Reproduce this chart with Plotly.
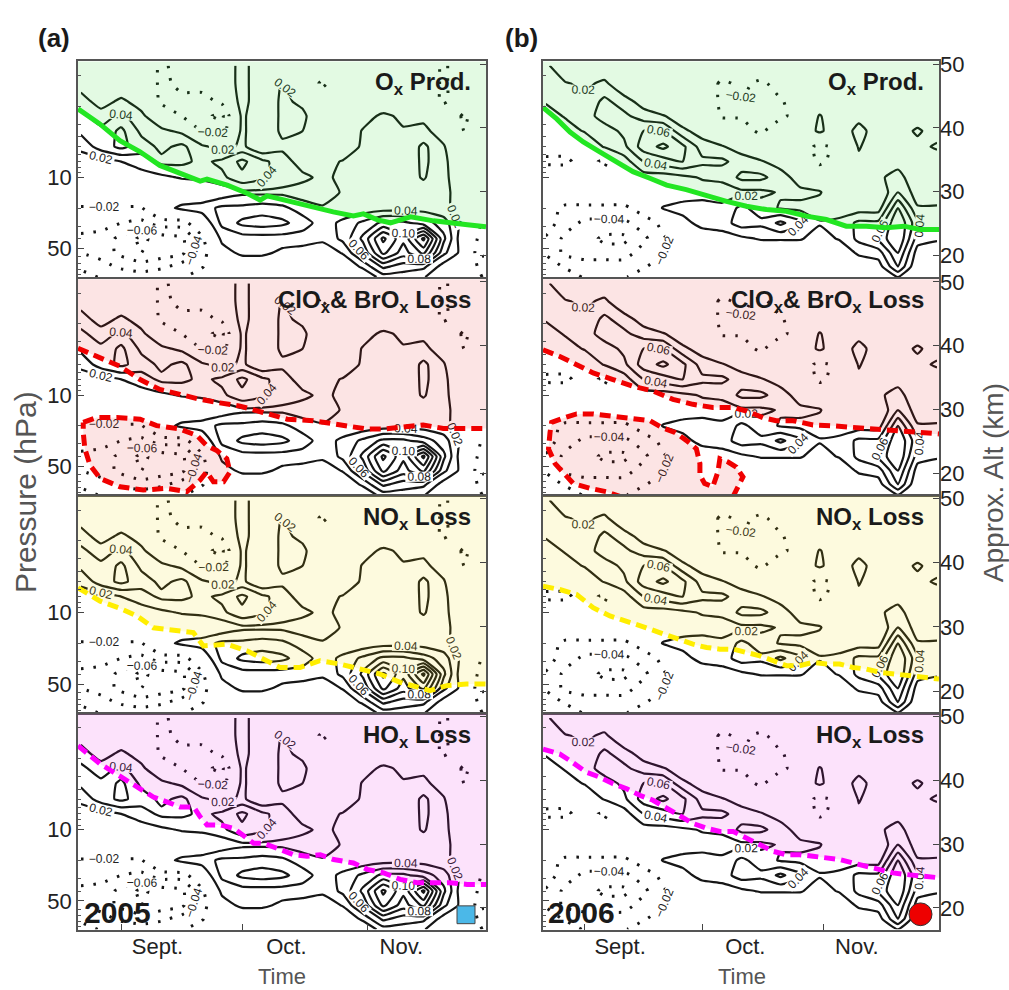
import plotly.graph_objects as go

W, H = 1009, 990
FONT = "Liberation Sans, Arial, sans-serif"

# ---------------- data ----------------
# time axis: days counted from 1 Aug (Sept 1 = 31, Oct 1 = 61, Nov 1 = 92)
DAYS = [21, 26, 31, 36, 41, 46, 51, 56, 61, 66, 71, 76, 81, 86, 91, 96, 101, 106, 111, 116, 121]
PRES = [0.8, 1.2, 1.8, 2.5, 3.5, 5, 7, 10, 14, 20, 28, 40, 55, 75, 95]   # hPa

# contoured field, in units of 0.01 (rows = PRES, columns = DAYS)
Z2005 = [
    [0, 0, 0, 0, -2.5, -1, 0, 0, 3, 0, 0, 0, 0, 0, 0, 0, 0, 0, -2.5, 0, 0],
    [1, 0, 0, 0, -2.5, -1.5, -1, 0, 3, 0, 2.2, 0, -2.5, 0, 0, 0, 0, 0, -2.5, 0, 0],
    [3, 1, 2.5, 1, -2.5, -2.5, -3, -1.5, 3, 0, 2.5, 1.5, 0, 0, 0, 0, 0, 0, -2.5, 0, 0],
    [4.5, 3, 4.5, 2.5, 0, -2, -3.5, -4.5, 2.5, 0, 2.5, 2.5, 0, 0, 1, 2.5, 1.5, 1.5, 1, -2.5, 0],
    [4.5, 4.5, 6.5, 3.5, 2.5, 1.5, -2, -3, 2.5, 0, 2.5, 2, 0, 0, 2.2, 2.5, 2.2, 2.5, 1, -2, 0],
    [2.5, 5, 6.5, 5, 3.5, 4.5, 2.5, 1, 2.5, 0, 1.5, 1, 0, 0, 2.5, 3, 2.2, 4.5, 2.2, -1, 0],
    [1, 1, 2, 3, 4.5, 4.5, 3.5, 4.5, 6.5, 4.5, 3, 1, 1, 2.2, 2.5, 2.5, 2.2, 4.5, 2.5, 0, 0],
    [0, 0, 0, 1, 1.5, 2.2, 2.5, 3.5, 5.5, 4.5, 3, 2.5, 1.5, 2.5, 3, 2.5, 3, 4.2, 2.5, 0.5, 0],
    [0, 0, 0, 0, 0, 0, 0, 0.5, 1.5, 1.5, 1.5, 1, 1, 2.2, 2.5, 3, 2.2, 3, 2.5, 1, -1],
    [-2.2, -2.2, -2.2, -2.2, 1, 2.5, 3, 4.5, 4.5, 5, 4.5, 3, 2.2, 2.5, 2.5, 3, 3, 3, 2.5, 1, -1],
    [-3, -3, -4, -4.5, -3, -3, 0, 4.5, 6.5, 7, 6.5, 5, 3, 4.5, 6.5, 8.5, 8.5, 7, 5, 1, -2.5],
    [-4.5, -5, -6.5, -8.5, -7, -6.5, -2.5, 2.5, 3, 3, 3, 3, 2.5, 4.5, 8.5, 14.5, 10.5, 16.5, 6.5, 0, -3],
    [-4, -5, -6.5, -8, -7, -6.5, -3, 1, 2.5, 2.5, 1.5, 1, 0.5, 2.2, 6.5, 12.5, 9, 12.5, 4.5, 1, -4.5],
    [-2.5, -3, -4.5, -5, -4.5, -3, -2.2, 0, 0, 0, 0, 0, 0, 0, 2.5, 6.5, 5, 4.5, 1, 0, -3],
    [-1, -2.2, -2.2, -3, -2.2, -2.2, -1, 0, 0, 0, 0, 0, 0, 0, 0, 3, 3, 2.2, 0, 0, -2.2],
]
Z2006 = [
    [2.5, 0, 0, 0, -1, 0, 0, 0, 0, 0, 0, 0, 0, 0, 0, 0, 0, 0, 0, 0, 0],
    [3, 2.2, 1.5, 2.5, 0, 0, -1, 0, 0, -2.5, -1.5, -2.5, -1, 0, 0, 0, 0, 0, 0, 0, 0],
    [2.2, 3, 2.5, 4.5, 3, 1, -1, 0, 0, -2.5, -2, -2.5, -2.2, -1, 0, 0, 0, 0, 0, 0, 0],
    [1, 2.2, 3, 5, 4.5, 3, 2.2, 0.5, 0, -2.2, -2.2, -2.2, -2.5, -1, 2.2, 0, 1, 0, 0, 0, 0],
    [0, 1, 2.2, 3, 4.5, 6, 6, 2.5, 1, -0.5, -1, -2.5, 0, 0, 2.5, 0, 3, 0.5, 0.5, 2.5, 0.5],
    [-1, -1, 0, 2.2, 3.5, 7, 8.5, 6.5, 3, 2.2, 1, 0, 0, -1, -2.5, -1.5, 2.2, 0.5, 0, 1, 2.5],
    [-2.5, -2.5, -1, -2.5, 1, 4, 5, 6, 4.5, 4.5, 3, 2.2, 1, 0, -2.5, -1, 1.5, 0, 1, 0, 0],
    [0, 0, 0, -1, 0, 1, 1, 1.5, 2.2, 2.5, 4.5, 4.5, 3, 1, 0, 0, 1, 1.5, 3, 0, 0],
    [0, 0, 0, 0, 0, 0, 0, 0.5, 1, 1, 1.5, 1.5, 2.2, 2.5, 2.2, 0, 0, 0, 4, 1, 1],
    [-1, -2.5, -2.5, -2.5, -2.5, -1, 2.2, 3, 3, 2.5, 4.5, 3, 1.8, 1.5, 1, 1, 1, 1, 8, 2.2, 2.2],
    [-1, -3, -4.5, -4.5, -4.5, -3, -1.5, 1, 3, 3, 5, 4.5, 6.5, 4.5, 2.2, 2.5, 4.5, 4.5, 10, 4.5, 3],
    [-2.2, -4.5, -5, -6.5, -6.5, -4.5, -2.2, -1, 0, 1, 1.5, 2.2, 2.2, 2.2, 1, 2.2, 4.5, 6.5, 10, 3, 2.2],
    [-2.2, -4.5, -5, -5, -5, -3, -2.2, -1, 0, 0, 0, 0, 0, 0, 0, 0, 2.5, 3, 8, 1, 1],
    [-1, -2.2, -3, -3, -3, -2.2, -1, 0, 0, 0, 0, 0, 0, 0, 0, 0, 0, 1, 6, 0, 0],
    [0, -1, -2.2, -2.2, -2.2, -1, 0, 0, 0, 0, 0, 0, 0, 0, 0, 0, 0, 0, 2, 0, 0],
]

# boundary curves (day, pressure hPa)
OX05_D = [20.3, 25.7, 30.7, 35.6, 40.6, 45.6, 50.6, 52.3, 57.3, 62.2, 65.5, 67.2, 72.2, 77.2, 83.6, 88.6, 91.1, 94.6, 97.8, 102.8, 108.5, 116.9, 121.5]
OX05_P = [2.13, 2.99, 4.37, 5.58, 7.63, 9.12, 10.9, 10.4, 11.9, 14.3, 16.7, 15.2, 17.1, 18.7, 21.8, 23.9, 22.8, 26.1, 27.9, 24.4, 26.7, 29.2, 30.5]
OX06_D = [20.3, 23.8, 27.2, 30.6, 34.8, 39.1, 43.3, 47.6, 51.9, 56.9, 62.1, 67.2, 72.3, 77.4, 82.5, 87.6, 92.7, 97.8, 102.9, 108.0, 112.6, 116.5, 121.5]
OX06_P = [2.06, 2.67, 3.59, 4.49, 5.61, 7.02, 8.79, 10.2, 11.9, 13.2, 15.3, 17.2, 19.2, 20.7, 21.5, 24.0, 25.9, 30.1, 30.1, 31.2, 30.1, 32.4, 32.4]

CL05_D = [20.3, 25.8, 30.7, 35.7, 40.6, 45.6, 50.6, 55.5, 60.5, 66.2, 72.2, 78.6, 83.6, 92.0, 96.0, 100.2, 105.9, 110.9, 121.5]
CL05_P = [3.47, 4.34, 5.21, 7.02, 8.79, 9.82, 11.0, 11.9, 12.8, 14.8, 17.2, 17.8, 19.2, 21.5, 21.5, 20.7, 19.6, 21.2, 21.2]
CL06_D = [20.3, 24.6, 28.9, 33.1, 38.2, 43.3, 48.4, 53.5, 58.6, 63.7, 68.9, 72.3, 76.5, 79.9, 84.2, 89.3, 94.4, 99.5, 104.6, 109.7, 113.9, 118.2, 121.5]
CL06_P = [3.59, 4.17, 5.02, 6.05, 7.03, 8.17, 9.12, 11.0, 12.3, 13.2, 13.2, 14.3, 16.6, 17.8, 17.8, 19.6, 20.0, 20.7, 21.5, 22.3, 23.2, 24.0, 24.0]

BLOB05_D = [21.6, 24.9, 29.9, 35.7, 39.8, 45.6, 49.8, 52.2, 54.7, 57.2, 58.0, 56.4, 53.9, 52.2, 50.6, 47.3, 42.3, 36.5, 30.7, 25.8, 23.3, 22.0, 21.6, 21.6]
BLOB05_P = [18.5, 16.6, 16.6, 17.2, 19.9, 21.5, 24.9, 31.2, 34.9, 42.0, 56.6, 70.8, 70.8, 56.6, 68.2, 88.5, 82.0, 85.3, 79.2, 65.6, 48.8, 33.6, 23.2, 18.5]
BLOB06_D = [40.5, 36.5, 32.3, 28.0, 23.4, 21.7, 22.1, 22.5, 25.9, 28.9, 33.1, 37.4, 40.8, 44.2, 47.6, 50.6, 54.0, 57.0, 59.5, 60.4, 60.4, 61.6, 63.7, 65.0, 65.5, 67.6, 69.7, 71.4, 70.1, 68.8, 40.5]
BLOB06_P = [100, 88.5, 82.0, 73.4, 47.0, 33.6, 23.2, 18.5, 16.6, 15.3, 15.3, 16.0, 16.6, 17.2, 17.8, 20.7, 23.2, 27.9, 33.6, 47.0, 61.0, 73.4, 79.2, 56.6, 42.0, 45.3, 50.7, 63.4, 79.2, 100, 100]

NO05_D = [20.3, 25.8, 30.7, 34.9, 39.0, 45.6, 48.9, 51.4, 57.2, 62.2, 67.1, 70.4, 75.4, 80.3, 85.3, 90.3, 95.2, 100.2, 104.3, 107.6, 111.8, 116.7, 121.5]
NO05_P = [5.74, 7.75, 9.12, 10.8, 14.1, 15.1, 15.7, 21.2, 20.4, 23.7, 29.6, 34.4, 34.4, 29.6, 31.9, 35.7, 39.9, 48.1, 53.7, 57.9, 51.8, 49.9, 49.9]
NO06_D = [20.3, 24.6, 28.9, 33.1, 37.4, 41.6, 46.7, 50.1, 54.4, 58.6, 62.1, 65.5, 68.9, 72.3, 75.7, 79.1, 82.5, 85.9, 89.3, 92.7, 96.1, 99.5, 102.9, 106.3, 109.7, 113.1, 116.5, 121.5]
NO06_P = [5.55, 5.97, 6.67, 8.97, 10.8, 12.1, 14.1, 15.7, 18.2, 20.4, 22.0, 22.8, 22.8, 24.5, 26.5, 29.6, 33.1, 33.1, 30.7, 31.9, 31.9, 34.4, 35.7, 38.4, 39.9, 41.4, 43.0, 44.6]

HO05_D = [20.3, 23.3, 25.8, 29.1, 32.4, 35.7, 39.0, 42.3, 45.6, 49.0, 50.6, 52.3, 55.6, 58.9, 62.2, 63.9, 66.4, 69.7, 73.8, 77.1, 80.4, 83.7, 88.6, 92.0, 96.1, 100.2, 104.4, 108.5, 112.6, 116.8, 121.5]
HO05_P = [1.50, 1.88, 2.26, 2.73, 3.28, 3.96, 4.78, 5.33, 5.97, 5.97, 7.46, 8.97, 8.97, 9.68, 12.1, 13.6, 13.6, 15.1, 17.6, 18.2, 17.6, 19.6, 21.2, 24.5, 26.5, 30.7, 33.1, 33.1, 33.1, 34.4, 34.4]
HO06_D = [20.3, 24.6, 27.2, 31.4, 34.8, 38.2, 41.7, 45.0, 48.4, 51.9, 55.3, 58.6, 62.1, 65.5, 68.9, 72.3, 75.7, 79.1, 82.5, 85.9, 89.3, 92.7, 96.1, 99.5, 102.9, 106.3, 109.7, 113.1, 116.5, 121.5]
HO06_P = [1.62, 1.81, 2.10, 2.73, 3.05, 3.54, 3.96, 4.59, 5.14, 6.19, 7.18, 8.67, 9.68, 10.4, 10.4, 12.1, 14.1, 16.3, 17.6, 17.6, 18.2, 19.0, 19.6, 21.2, 22.8, 24.5, 26.5, 27.5, 28.5, 29.6]

MONTH_STARTS = [31, 61, 92]
MONTH_LABEL_DAYS = [40, 72, 100.5]
MONTH_LABELS = ["Sept.", "Oct.", "Nov."]
P_TICKS = [10, 50]
P_MINOR = [1, 2, 3, 4, 5, 6, 7, 8, 9, 20, 30, 40, 60, 70, 80, 90]
ALT_TICKS = [20, 30, 40, 50]
YEARS = ["2005", "2006"]
PANEL_TITLES = ["<b>O<sub>x</sub> Prod.</b>",
                "<b>ClO<sub>x</sub>& BrO<sub>x</sub> Loss</b>",
                "<b>NO<sub>x</sub> Loss</b>",
                "<b>HO<sub>x</sub> Loss</b>"]

# ---------------- styling / layout ----------------
COL_PX = [(78, 486), (543, 939)]
ROW_PX = [(52, 270), (272, 490), (491, 710), (711, 929)]
X_RANGE = [20.3, 121.5]
Y_RANGE = [1.98, -0.137]       # log10(hPa), reversed
ALT_RANGE = [16.6, 50.4]
P_TOP = 0.5

FILLS = ["rgba(40,220,40,0.13)", "rgba(230,30,30,0.12)", "rgba(240,220,0,0.13)", "rgba(230,20,220,0.12)"]
LINE_COLORS = ["#22e622", "#f00000", "#ffee00", "#ff00ff"]
CLINE = "#161616"
TICKFONT = dict(size=22, color="#222", family=FONT)

BOUNDS = [
    [(OX05_D, OX05_P), (OX06_D, OX06_P)],
    [(CL05_D, CL05_P), (CL06_D, CL06_P)],
    [(NO05_D, NO05_P), (NO06_D, NO06_P)],
    [(HO05_D, HO05_P), (HO06_D, HO06_P)],
]
BLOBS = [(BLOB05_D, BLOB05_P), (BLOB06_D, BLOB06_P)]
ZS = [Z2005, Z2006]


def fx(px):
    return px / W


def fy(py):
    return 1 - py / H


fig = go.Figure()
layout = dict(width=W, height=H, autosize=False, margin=dict(l=0, r=0, t=0, b=0),
              plot_bgcolor="white", paper_bgcolor="white", showlegend=False,
              font=dict(family=FONT, color="#222", size=18))
annotations = []
shapes = []

for r in range(4):
    for c in range(2):
        n = r * 2 + c + 1
        na = n + 8
        xs = "x" if n == 1 else f"x{n}"
        ys = "y" if n == 1 else f"y{n}"
        ya = f"y{na}"
        xk = "xaxis" if n == 1 else f"xaxis{n}"
        yk = "yaxis" if n == 1 else f"yaxis{n}"
        yak = f"yaxis{na}"
        x0, x1 = COL_PX[c]
        t, b = ROW_PX[r]
        bottom = (r == 3)

        xax = dict(domain=[fx(x0), fx(x1)], anchor=ys, range=X_RANGE, showgrid=False,
                   zeroline=False, showline=True, linecolor="#555", linewidth=1.5, mirror=True)
        if bottom:
            xax.update(tickmode="array", tickvals=MONTH_LABEL_DAYS, ticktext=MONTH_LABELS,
                       ticks="inside", ticklen=0, tickwidth=0.01, showticklabels=True,
                       tickfont=TICKFONT, ticklabelstandoff=-4,
                       minor=dict(tickmode="array", tickvals=MONTH_STARTS, ticks="inside",
                                  ticklen=6, tickcolor="#444", tickwidth=1))
        else:
            xax.update(showticklabels=False, ticks="")
        layout[xk] = xax

        yax = dict(domain=[fy(b), fy(t)], anchor=xs, type="log", range=Y_RANGE, showgrid=False,
                   zeroline=False, showline=True, linecolor="#555", linewidth=1.5, mirror=True,
                   tickmode="array", tickvals=P_TICKS, ticks="inside", ticklen=6, tickcolor="#444",
                   minor=dict(tickmode="array", tickvals=P_MINOR, ticks="inside", ticklen=3,
                              tickcolor="#555", tickwidth=1))
        if c == 0:
            yax.update(ticktext=[str(v) for v in P_TICKS], showticklabels=True, tickfont=TICKFONT)
        else:
            yax.update(showticklabels=False)
        layout[yk] = yax

        aax = dict(overlaying=ys, anchor=xs, side="right", range=ALT_RANGE, showgrid=False,
                   zeroline=False, showline=False, tickmode="array", tickvals=ALT_TICKS,
                   ticks="inside", ticklen=6, tickcolor="#444")
        if c == 1:
            aax.update(showticklabels=True, tickfont=TICKFONT)
        else:
            aax.update(showticklabels=False)
        layout[yak] = aax

        # invisible point to activate the altitude axis
        fig.add_trace(go.Scatter(x=[X_RANGE[0]], y=[ALT_RANGE[0]], xaxis=xs, yaxis=ya, mode="markers",
                                 marker=dict(opacity=0), hoverinfo="skip"))

        # shaded region above boundary
        bd, bp = BOUNDS[r][c]
        fig.add_trace(go.Scatter(x=list(bd) + [X_RANGE[1] + 1, X_RANGE[0] - 1, bd[0]],
                                 y=list(bp) + [P_TOP, P_TOP, bp[0]], xaxis=xs, yaxis=ys,
                                 mode="lines", line=dict(width=0), fill="toself",
                                 fillcolor=FILLS[r], hoverinfo="skip"))
        if r == 1:
            kd, kp = BLOBS[c]
            fig.add_trace(go.Scatter(x=kd, y=kp, xaxis=xs, yaxis=ys, mode="lines",
                                     line=dict(width=0), fill="toself", fillcolor=FILLS[r],
                                     hoverinfo="skip"))

        # contours (same field in every row of a column)
        zz = [[v / 100 for v in row] for row in ZS[c]]
        fig.add_trace(go.Contour(x=DAYS, y=PRES, z=zz, xaxis=xs, yaxis=ys, showscale=False,
                                 hoverinfo="skip",
                                 contours=dict(coloring="none", start=0.02, end=0.2, size=0.02,
                                               showlabels=True, labelformat=".2f",
                                               labelfont=dict(size=12, color="#222", family=FONT)),
                                 line=dict(color=CLINE, width=2.2, smoothing=0.45)))
        fig.add_trace(go.Contour(x=DAYS, y=PRES, z=zz, xaxis=xs, yaxis=ys, showscale=False,
                                 hoverinfo="skip",
                                 contours=dict(coloring="none", start=-0.1, end=-0.02, size=0.02,
                                               showlabels=True, labelformat=".2f",
                                               labelfont=dict(size=12, color="#222", family=FONT)),
                                 line=dict(color=CLINE, width=3, dash="2.5px,10px", smoothing=0.45)))

        # boundary line(s)
        if r == 0:
            lstyle = dict(color=LINE_COLORS[r], width=5)
        else:
            lstyle = dict(color=LINE_COLORS[r], width=5, dash="11px,6px")
        fig.add_trace(go.Scatter(x=bd, y=bp, xaxis=xs, yaxis=ys, mode="lines", line=lstyle,
                                 hoverinfo="skip"))
        if r == 1:
            kd, kp = BLOBS[c]
            fig.add_trace(go.Scatter(x=kd, y=kp, xaxis=xs, yaxis=ys, mode="lines", line=lstyle,
                                     hoverinfo="skip"))

        # panel title
        annotations.append(dict(text=PANEL_TITLES[r], xref="paper", yref="paper",
                                x=fx(x1 - 13), y=fy(t + 5), xanchor="right", yanchor="top",
                                showarrow=False, font=dict(size=24, color="#1a1a1a", family=FONT)))

# column letters, years
annotations.append(dict(text="<b>(a)</b>", xref="paper", yref="paper", x=fx(54), y=fy(28),
                        xanchor="center", yanchor="middle", showarrow=False,
                        font=dict(size=26, color="#1a1a1a", family=FONT)))
annotations.append(dict(text="<b>(b)</b>", xref="paper", yref="paper", x=fx(521), y=fy(28),
                        xanchor="center", yanchor="middle", showarrow=False,
                        font=dict(size=26, color="#1a1a1a", family=FONT)))
annotations.append(dict(text="<b>" + YEARS[0] + "</b>", xref="paper", yref="paper", x=fx(82), y=fy(912),
                        xanchor="left", yanchor="middle", showarrow=False,
                        font=dict(size=30, color="#1a1a1a", family=FONT)))
annotations.append(dict(text="<b>" + YEARS[1] + "</b>", xref="paper", yref="paper", x=fx(546), y=fy(912),
                        xanchor="left", yanchor="middle", showarrow=False,
                        font=dict(size=30, color="#1a1a1a", family=FONT)))
# axis titles
annotations.append(dict(text="Pressure (hPa)", xref="paper", yref="paper", x=fx(25), y=fy(487),
                        xanchor="center", yanchor="middle", textangle=-90, showarrow=False,
                        font=dict(size=30, color="#555", family=FONT)))
annotations.append(dict(text="Approx. Alt (km)", xref="paper", yref="paper", x=fx(993), y=fy(478),
                        xanchor="center", yanchor="middle", textangle=-90, showarrow=False,
                        font=dict(size=28, color="#555", family=FONT)))
for cx in (282, 742):
    annotations.append(dict(text="Time", xref="paper", yref="paper", x=fx(cx), y=fy(976),
                            xanchor="center", yanchor="middle", showarrow=False,
                            font=dict(size=22, color="#555", family=FONT)))

# markers: blue square (2005) and red circle (2006)
shapes.append(dict(type="rect", xref="paper", yref="paper", x0=fx(457), x1=fx(475), y0=fy(923), y1=fy(905),
                   fillcolor="#4bb8e8", line=dict(color="#444", width=1)))
shapes.append(dict(type="circle", xref="paper", yref="paper", x0=fx(909), x1=fx(932), y0=fy(925), y1=fy(902),
                   fillcolor="#ee0000", line=dict(color="#333", width=1)))

layout["annotations"] = annotations
layout["shapes"] = shapes
fig.update_layout(**layout)
fig.write_html("out.html")
